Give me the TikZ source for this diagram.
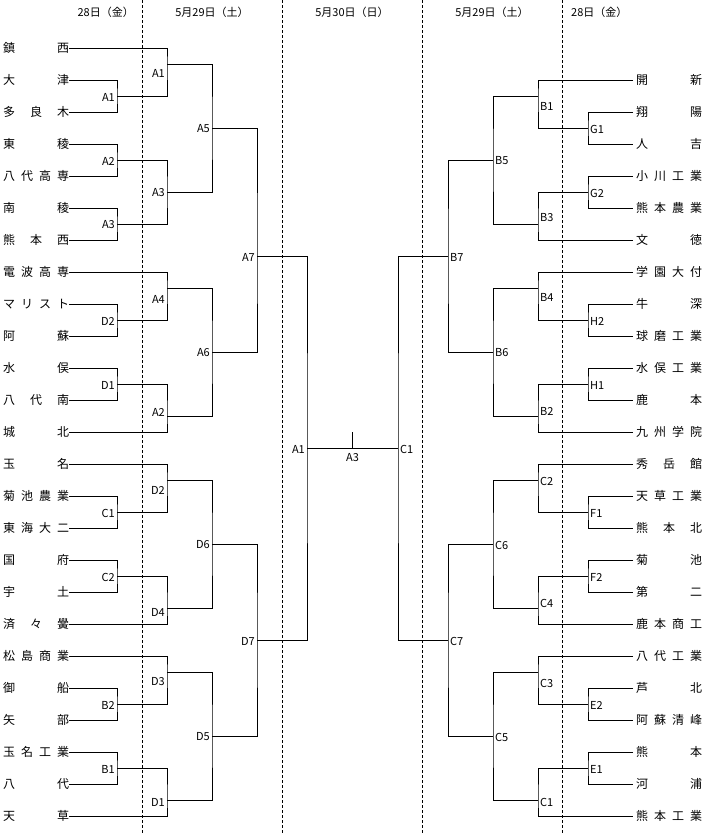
\documentclass[tikz,border=0pt]{standalone}
\usepackage{fontspec}
\setmainfont{Noto Sans CJK JP}
\newcommand\lname[1]{\makebox[66pt][s]{#1}\hspace{3pt}}
\newcommand\rname[1]{\hspace{3pt}\makebox[66pt][s]{#1}}
\tikzset{
  ln/.style={anchor=west,inner sep=0pt,font=\fontsize{12pt}{14pt}\selectfont},
  rn/.style={anchor=west,inner sep=0pt,font=\fontsize{12pt}{14pt}\selectfont},
  ll/.style={anchor=east,inner sep=0pt,font=\fontsize{11pt}{13pt}\selectfont},
  rl/.style={anchor=west,inner sep=0pt,font=\fontsize{11pt}{13pt}\selectfont},
  hd/.style={inner sep=0pt,font=\fontsize{11pt}{13pt}\selectfont},
  br/.style={line width=0.9pt},
  dl/.style={line width=0.8pt,dash pattern=on 3pt off 2pt}
}
\begin{document}
\begin{tikzpicture}[x=1pt,y=-1pt]
\useasboundingbox (0,0) rectangle (705,833);
% dashed day separators
\foreach \i/\xx in {1/142,2/282,3/422,4/562}{
  \coordinate (dt\i) at (\xx,0);
  \coordinate (db\i) at (\xx,833);
  \draw[dl] (dt\i) -- (db\i);
}
% headers
\node[hd,anchor=east] (h1) at (134,12) {28日（金）};
\node[hd] (h2) at (212,12) {5月29日（土）};
\node[hd] (h3) at (352,12) {5月30日（日）};
\node[hd] (h4) at (492,12) {5月29日（土）};
\node[hd,anchor=west] (h5) at (571,12) {28日（金）};
% left teams
\foreach \i/\t in {0/鎮 西,1/大 津,2/多 良 木,3/東 稜,4/八 代 高 専,5/南 稜,6/熊 本 西,
  7/電 波 高 専,8/マ リ ス ト,9/阿 蘇,10/水 俣,11/八 代 南,12/城 北,13/玉 名,
  14/菊 池 農 業,15/東 海 大 二,16/国 府,17/宇 土,18/済 々 黌,19/松 島 商 業,
  20/御 船,21/矢 部,22/玉 名 工 業,23/八 代,24/天 草}{
  \node[ln] (L\i) at (3,{48+32*\i}) {\lname{\t}};
}
% right teams
\foreach \i/\t in {0/開 新,1/翔 陽,2/人 吉,3/小 川 工 業,4/熊 本 農 業,5/文 徳,
  6/学 園 大 付,7/牛 深,8/球 磨 工 業,9/水 俣 工 業,10/鹿 本,11/九 州 学 院,
  12/秀 岳 館,13/天 草 工 業,14/熊 本 北,15/菊 池,16/第 二,17/鹿 本 商 工,
  18/八 代 工 業,19/芦 北,20/阿 蘇 清 峰,21/熊 本,22/河 浦,23/熊 本 工 業}{
  \node[rn] (R\i) at (633,{80+32*\i}) {\rname{\t}};
}
% ---------- left side ----------
% round 1 (x=117)
\foreach \n/\yy/\a/\b/\lab in {1/96/1/2/A1,2/160/3/4/A2,3/224/5/6/A3,4/320/8/9/D2,
  5/384/10/11/D1,6/512/14/15/C1,7/576/16/17/C2,8/704/20/21/B2,9/768/22/23/B1}{
  \coordinate (la\n) at (117,\yy);
  \draw[br] (L\a.east) -| (la\n) |- (L\b.east);
  \node[ll] (lla\n) at (115,\yy+1) {\lab};
}
% round 2 (x=167)
\coordinate (lb1) at (167,64);  \draw[br] (L0.east) -| (lb1) |- (la1);
\coordinate (lb2) at (167,192); \draw[br] (la2) -| (lb2) |- (la3);
\coordinate (lb3) at (167,288); \draw[br] (L7.east) -| (lb3) |- (la4);
\coordinate (lb4) at (167,416); \draw[br] (la5) -| (lb4) |- (L12.east);
\coordinate (lb5) at (167,480); \draw[br] (L13.east) -| (lb5) |- (la6);
\coordinate (lb6) at (167,608); \draw[br] (la7) -| (lb6) |- (L18.east);
\coordinate (lb7) at (167,672); \draw[br] (L19.east) -| (lb7) |- (la8);
\coordinate (lb8) at (167,800); \draw[br] (la9) -| (lb8) |- (L24.east);
\node[ll] (llb1) at (165,73) {A1};
\node[ll] (llb2) at (165,193) {A3};
\node[ll] (llb3) at (165,299) {A4};
\node[ll] (llb4) at (165,412) {A2};
\node[ll] (llb5) at (165,490) {D2};
\node[ll] (llb6) at (165,612) {D4};
\node[ll] (llb7) at (165,682) {D3};
\node[ll] (llb8) at (165,802) {D1};
% round 3 (x=212)
\coordinate (lc1) at (212,128); \draw[br] (lb1) -| (lc1) |- (lb2);
\coordinate (lc2) at (212,352); \draw[br] (lb3) -| (lc2) |- (lb4);
\coordinate (lc3) at (212,544); \draw[br] (lb5) -| (lc3) |- (lb6);
\coordinate (lc4) at (212,736); \draw[br] (lb7) -| (lc4) |- (lb8);
\node[ll] (llc1) at (210,129) {A5};
\node[ll] (llc2) at (210,353) {A6};
\node[ll] (llc3) at (210,545) {D6};
\node[ll] (llc4) at (210,737) {D5};
% round 4 (x=257)
\coordinate (ld1) at (257,256); \draw[br] (lc1) -| (ld1) |- (lc2);
\coordinate (ld2) at (257,640); \draw[br] (lc3) -| (ld2) |- (lc4);
\node[ll] (lld1) at (255,257) {A7};
\node[ll] (lld2) at (255,641) {D7};
% ---------- right side ----------
% round 1 (x=588)
\foreach \n/\yy/\a/\b/\lab in {1/128/1/2/G1,2/192/3/4/G2,3/320/7/8/H2,4/384/9/10/H1,
  5/512/13/14/F1,6/576/15/16/F2,7/704/19/20/E2,8/768/21/22/E1}{
  \coordinate (ra\n) at (588,\yy);
  \draw[br] (R\a.west) -| (ra\n) |- (R\b.west);
  \node[rl] (rla\n) at (590,\yy+1) {\lab};
}
% round 2 (x=538)
\coordinate (rb1) at (538,96);  \draw[br] (R0.west) -| (rb1) |- (ra1);
\coordinate (rb2) at (538,224); \draw[br] (ra2) -| (rb2) |- (R5.west);
\coordinate (rb3) at (538,288); \draw[br] (R6.west) -| (rb3) |- (ra3);
\coordinate (rb4) at (538,416); \draw[br] (ra4) -| (rb4) |- (R11.west);
\coordinate (rb5) at (538,480); \draw[br] (R12.west) -| (rb5) |- (ra5);
\coordinate (rb6) at (538,608); \draw[br] (ra6) -| (rb6) |- (R17.west);
\coordinate (rb7) at (538,672); \draw[br] (R18.west) -| (rb7) |- (ra7);
\coordinate (rb8) at (538,800); \draw[br] (ra8) -| (rb8) |- (R23.west);
\node[rl] (rlb1) at (540,106) {B1};
\node[rl] (rlb2) at (540,218) {B3};
\node[rl] (rlb3) at (540,297) {B4};
\node[rl] (rlb4) at (540,411) {B2};
\node[rl] (rlb5) at (540,481) {C2};
\node[rl] (rlb6) at (540,603) {C4};
\node[rl] (rlb7) at (540,683) {C3};
\node[rl] (rlb8) at (540,802) {C1};
% round 3 (x=493)
\coordinate (rc1) at (493,160); \draw[br] (rb1) -| (rc1) |- (rb2);
\coordinate (rc2) at (493,352); \draw[br] (rb3) -| (rc2) |- (rb4);
\coordinate (rc3) at (493,544); \draw[br] (rb5) -| (rc3) |- (rb6);
\coordinate (rc4) at (493,736); \draw[br] (rb7) -| (rc4) |- (rb8);
\node[rl] (rlc1) at (495,161) {B5};
\node[rl] (rlc2) at (495,353) {B6};
\node[rl] (rlc3) at (495,545) {C6};
\node[rl] (rlc4) at (495,737) {C5};
% round 4 (x=448)
\coordinate (rd1) at (448,256); \draw[br] (rc1) -| (rd1) |- (rc2);
\coordinate (rd2) at (448,640); \draw[br] (rc3) -| (rd2) |- (rc4);
\node[rl] (rld1) at (450,257) {B7};
\node[rl] (rld2) at (450,641) {C7};
% ---------- final ----------
\coordinate (lf) at (307,448);
\coordinate (rf) at (398,448);
\draw[br] (ld1) -| (lf) |- (ld2);
\draw[br] (rd1) -| (rf) |- (rd2);
\draw[br] (lf) -- (rf);
\coordinate (tk) at (352.5,432);
\draw[br] (tk) -- (tk |- lf);
\node[ll] (lfl) at (305,449) {A1};
\node[rl] (rfl) at (400,449) {C1};
\node[hd] (cfl) at (352.5,458) {A3};
\end{tikzpicture}
\end{document}
